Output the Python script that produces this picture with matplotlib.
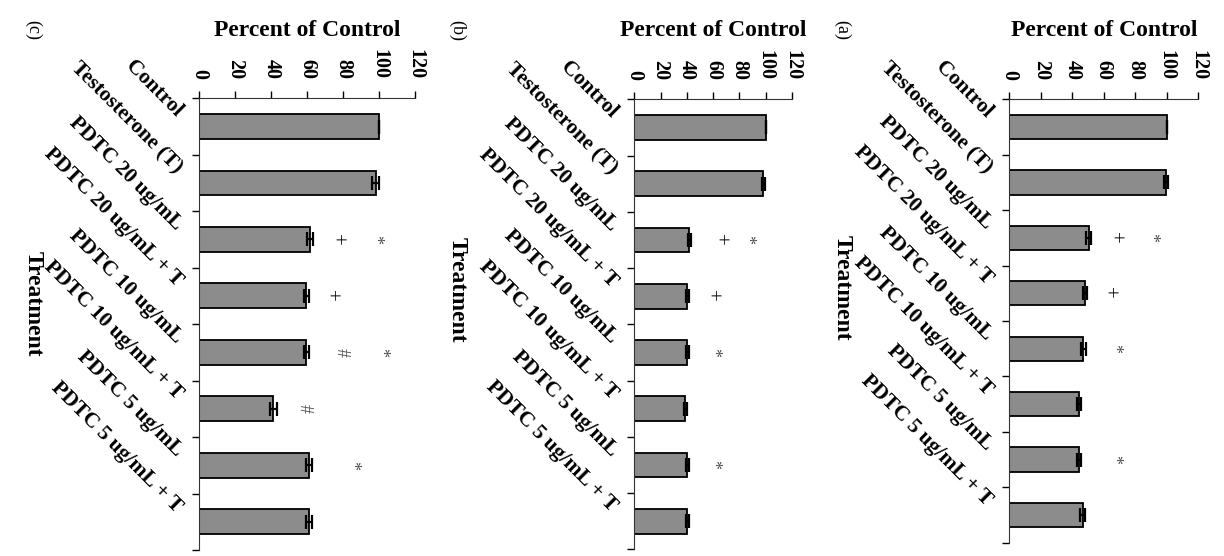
import numpy as np
import matplotlib
matplotlib.use("Agg")
import matplotlib.pyplot as plt
import matplotlib.transforms as mtransforms

plt.rcParams['font.family'] = ['Liberation Serif', 'DejaVu Serif']

categories = ['Control', 'Testosterone (T)', 'PDTC 20 ug/mL', 'PDTC 20 ug/mL + T',
              'PDTC 10 ug/mL', 'PDTC 10 ug/mL + T', 'PDTC 5 ug/mL', 'PDTC 5 ug/mL + T']

# panel (a)
vals_a = [100, 99.5, 50.5, 48, 47, 44.5, 44.5, 46.5]
err_a = [0, 1.5, 1.5, 1.2, 1.5, 1.2, 1.2, 1.5]
# significance marks: (category index, value position, symbol)
marks_a = [(2, 66.5, '+'), (2, 89.5, '*'), (3, 62.5, '+'), (4, 66, '*'), (6, 66, '*')]

# panel (b)
vals_b = [100, 98.2, 41.8, 40.3, 40.3, 38.7, 40.3, 40.3]
err_b = [0, 1.2, 1.2, 1.2, 1.2, 1.2, 1.2, 1.2]
marks_b = [(2, 64, '+'), (2, 85.5, '*'), (3, 58, '+'), (4, 59.5, '*'), (6, 59.5, '*')]

# panel (c)
vals_c = [100, 98, 61.5, 59.5, 59.5, 41, 61, 61]
err_c = [0, 2, 1.5, 1.5, 1.5, 2, 1.5, 1.5]
marks_c = [(2, 76, '+'), (2, 97.5, '*'), (3, 72.5, '+'), (4, 79, '#'), (4, 101, '*'),
           (5, 58, '#'), (6, 84.5, '*')]

W, H = 1224, 556
fig = plt.figure(figsize=(W / 100, H / 100), dpi=100)

# pixel boxes: left, right, top, bottom
panels = [
    ('(c)', vals_c, err_c, marks_c, (199.3, 415.3, 98.3, 550), 33, 304),
    ('(b)', vals_b, err_b, marks_b, (634.3, 792, 99.3, 549.3), 457, 290),
    ('(a)', vals_a, err_a, marks_a, (1009.3, 1198.3, 99.3, 542.7), 842, 288),
]

shift = mtransforms.ScaledTranslation(-20 / 100, 12 / 100, fig.dpi_scale_trans)

for name, vals, errs, marks, box, lx, ty in panels:
    l, r, t, b = box
    ax = fig.add_axes([l / W, (H - b) / H, (r - l) / W, (b - t) / H])
    pos = np.arange(len(categories)) + 0.5
    ax.barh(pos, vals, height=0.44, color='#8c8c8c', edgecolor='black', linewidth=1.3)
    ax.errorbar(vals, pos, xerr=errs, fmt='none', ecolor='black', elinewidth=1.6,
                capsize=5, capthick=1.6)
    for i, v, s in marks:
        if s == '+':
            ax.text(v, pos[i], s, ha='center', va='center', rotation=-90,
                    fontsize=15, color='black')
        else:
            ax.text(v, pos[i], s, ha='center', va='center', rotation=-90,
                    fontsize=13, color='#505050')
    # category labels, slanted
    for p, c in zip(pos, categories):
        ax.text(0, p, c, transform=ax.get_yaxis_transform() + shift, rotation=-45,
                ha='right', va='center', rotation_mode='anchor', fontsize=15.5,
                fontweight='bold', clip_on=False)
    ax.set_xlim(0, 120)
    ax.set_ylim(len(categories), 0)
    ax.xaxis.tick_top()
    ax.set_xticks(np.arange(0, 121, 20))
    ax.set_xticklabels([str(x) for x in range(0, 121, 20)], rotation=-90,
                       fontsize=14.5, fontweight='bold')
    ax.tick_params(axis='x', direction='out', length=5, width=1, pad=9)
    ax.set_yticks(np.arange(0, len(categories) + 1))
    ax.set_yticklabels([])
    ax.tick_params(axis='y', direction='out', length=5, width=1)
    ax.spines['right'].set_visible(False)
    ax.spines['bottom'].set_visible(False)
    ax.spines['top'].set_color('#333333')
    ax.spines['left'].set_color('#333333')

    fig.text(((l + r) / 2) / W, 1 - 31 / H, 'Percent of Control', ha='center',
             va='center', fontsize=17, fontweight='bold')
    fig.text(lx / W, 1 - 30 / H, name, ha='center', va='center', rotation=-90,
             fontsize=13)
    fig.text(lx / W, 1 - ty / H, 'Treatment', ha='center', va='center', rotation=-90,
             fontsize=17, fontweight='bold')

fig.savefig('out.png', dpi=100)
